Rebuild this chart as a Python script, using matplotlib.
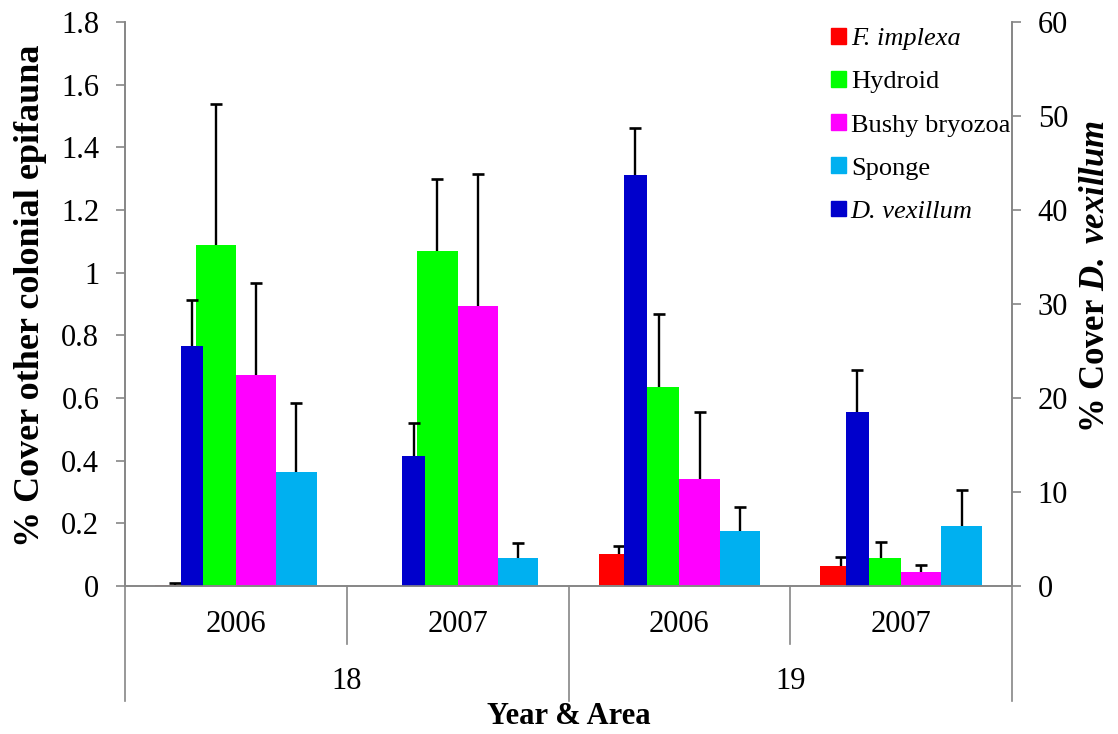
import numpy as np
import matplotlib
matplotlib.use("Agg")
import matplotlib.pyplot as plt
from matplotlib.patches import Patch

plt.rcParams['font.family'] = ['Liberation Serif', 'DejaVu Serif']
plt.rcParams['mathtext.fontset'] = 'custom'
plt.rcParams['mathtext.rm'] = 'Liberation Serif'
plt.rcParams['mathtext.it'] = 'Liberation Serif:italic'
plt.rcParams['mathtext.bf'] = 'Liberation Serif:bold'
plt.rcParams['mathtext.bfit'] = 'Liberation Serif:bold:italic'

# Categories: year within area
years = ["2006", "2007", "2006", "2007"]
areas = ["18", "19"]

# Other colonial epifauna (% cover, left axis): means and upper SE
f_implexa = [0.004, 0.0, 0.101, 0.065]
f_implexa_err = [0.007, 0.0, 0.027, 0.029]
hydroid = [1.087, 1.070, 0.636, 0.088]
hydroid_err = [0.450, 0.230, 0.231, 0.052]
bryozoa = [0.673, 0.895, 0.342, 0.044]
bryozoa_err = [0.295, 0.421, 0.213, 0.023]
sponge = [0.363, 0.088, 0.175, 0.190]
sponge_err = [0.221, 0.048, 0.076, 0.115]

# D. vexillum (% cover, right axis)
d_vexillum = [25.5, 13.8, 43.7, 18.5]
d_vexillum_err = [4.9, 3.5, 5.0, 4.5]

C_RED, C_GREEN, C_MAG, C_CYAN, C_BLUE = "#FF0000", "#00FF00", "#FF00FF", "#00B0F0", "#0000CC"
GRAY = "#868686"
FS = 22
W, H = 1118, 734

fig = plt.figure(figsize=(W / 100, H / 100), dpi=100)
ax = fig.add_axes([125 / W, 148 / H, 887 / W, 564 / H])
ax2 = ax.twinx()


def upper_errors(a, xs, vals, errs):
    """Black upper-only error bars with a cap at the top."""
    xs = np.asarray(xs)
    vals = np.asarray(vals, dtype=float)
    errs = np.asarray(errs, dtype=float)
    m = errs > 0
    tops = vals[m] + errs[m]
    a.vlines(xs[m], vals[m], tops, color="black", lw=1.7, zorder=3)
    a.plot(xs[m], tops, ls="none", marker="_", ms=8, mew=1.9, color="black", zorder=3)


x = np.arange(len(years))
w = 1 / 5.5
prim = [(f_implexa, f_implexa_err, C_RED, -1.5),
        (hydroid, hydroid_err, C_GREEN, -0.5),
        (bryozoa, bryozoa_err, C_MAG, 0.5),
        (sponge, sponge_err, C_CYAN, 1.5)]
for vals, errs, col, off in prim:
    xs = x + off * w
    ax.bar(xs, vals, width=w, color=col, edgecolor="none", zorder=2)
    upper_errors(ax, xs, vals, errs)

bw = 0.102
xb = x - 0.198
ax2.bar(xb, d_vexillum, width=bw, color=C_BLUE, edgecolor="none", zorder=2)
upper_errors(ax2, xb, d_vexillum, d_vexillum_err)

ax.set_xlim(-0.5, 3.5)
ax.set_ylim(0, 1.8)
ax2.set_ylim(0, 60)
ax.set_yticks(np.arange(0, 1.81, 0.2))
ax.set_yticklabels(["0", "0.2", "0.4", "0.6", "0.8", "1", "1.2", "1.4", "1.6", "1.8"])
ax2.set_yticks(np.arange(0, 61, 10))
ax.set_xticks([])

for a in (ax, ax2):
    a.spines["top"].set_visible(False)
    for s in ("left", "right", "bottom"):
        a.spines[s].set_color(GRAY)
        a.spines[s].set_linewidth(1.2)
    a.tick_params(axis="y", colors=GRAY, labelcolor="black", labelsize=FS,
                  length=6.5, width=1.2, direction="out", pad=12)

# Multi-level category axis
tr = ax.get_xaxis_transform()
for xv, depth in [(-0.5, 0.204), (0.5, 0.103), (1.5, 0.204), (2.5, 0.103), (3.5, 0.204)]:
    ax.plot([xv, xv], [0, -depth], transform=tr, color=GRAY, lw=1.2, clip_on=False)
for xi, yr in zip(x, years):
    ax.text(xi, -0.069, yr, transform=tr, ha="center", va="center", fontsize=FS)
for i, ar in enumerate(areas):
    ax.text(0.5 + 2 * i, -0.170, ar, transform=tr, ha="center", va="center", fontsize=FS)
ax.text(1.5, -0.232, "Year & Area", transform=tr, ha="center", va="center",
        fontsize=FS, fontweight="bold")

# Axis titles
fig.text(31 / W, 1 - 296 / H, "% Cover other colonial epifauna", rotation=90,
         ha="center", va="center", fontsize=26, fontweight="bold")
fig.text(1095 / W, 1 - 276 / H, r"$\mathbf{\%\ Cover}\ \mathbfit{D.\ vexillum}$",
         rotation=90, ha="center", va="center", fontsize=25)

handles = [Patch(color=C_RED), Patch(color=C_GREEN), Patch(color=C_MAG),
           Patch(color=C_CYAN), Patch(color=C_BLUE)]
labels = ["F. implexa", "Hydroid", "Bushy bryozoa", "Sponge", "D. vexillum"]
leg = ax2.legend(handles, labels, loc="upper left", bbox_to_anchor=(831 / W, 1 - 28 / H),
                 bbox_transform=fig.transFigure, frameon=False, fontsize=19,
                 handlelength=0.55, handleheight=0.55, handletextpad=0.2,
                 labelspacing=0.79, borderaxespad=0, borderpad=0)
for t, it in zip(leg.get_texts(), [True, False, False, False, True]):
    if it:
        t.set_fontstyle("italic")

fig.savefig("out.png", dpi=100)
